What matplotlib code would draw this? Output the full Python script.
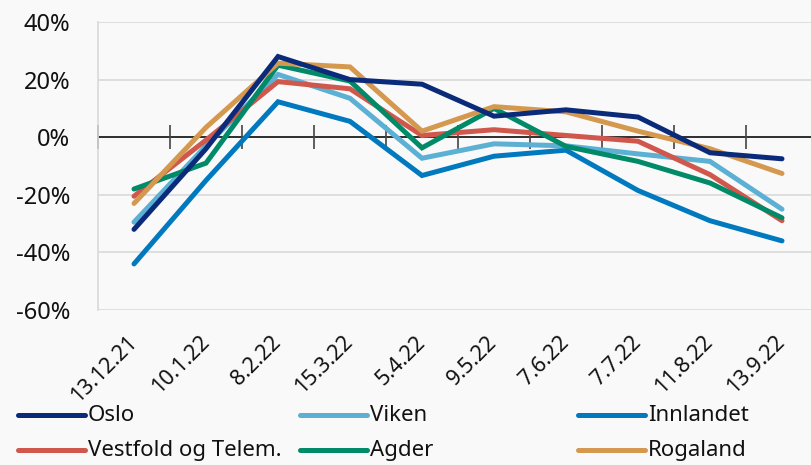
import matplotlib.pyplot as plt
from matplotlib.lines import Line2D
from matplotlib.ticker import FuncFormatter
import numpy as np

plt.rcParams['font.family'] = ['Noto Sans', 'DejaVu Sans']

dates = ["13.12.21", "10.1.22", "8.2.22", "15.3.22", "5.4.22",
         "9.5.22", "7.6.22", "7.7.22", "11.8.22", "13.9.22"]

oslo = [-32, -4, 28, 20, 18.4, 7.3, 9.5, 7, -5.4, -7.5]
viken = [-29.5, -3, 21.8, 13.5, -7.3, -2.3, -3, -5.8, -8.4, -25]
innlandet = [-44, -15, 12.3, 5.5, -13.3, -6.6, -4.5, -18.5, -29, -36]
vestfold = [-20.5, -1, 19.3, 16.8, 0.6, 2.6, 0.6, -1.4, -13, -29]
agder = [-18, -9, 25, 19.5, -3.7, 10, -3.2, -8.4, -15.9, -28]
rogaland = [-23, 3.4, 25.7, 24.4, 2.1, 10.6, 8.8, 2.1, -4, -12.6]

names = ["Oslo", "Viken", "Innlandet", "Vestfold og Telem.", "Agder", "Rogaland"]
series = [oslo, viken, innlandet, vestfold, agder, rogaland]
colors = ["#0A2A7A", "#5BB0D3", "#0079BF", "#D0574C", "#008A68", "#D4984F"]

bg = "#F9F9F9"
fig = plt.figure(figsize=(8.12, 4.65), dpi=100, facecolor=bg)
ax = fig.add_axes([98 / 812, 1 - 310 / 465, 720 / 812, 288 / 465], facecolor=bg)

x = np.arange(len(dates))
# draw order: keep Oslo on top like the original
order = [2, 1, 3, 4, 5, 0]
for i in order:
    ax.plot(x, series[i], color=colors[i], lw=3.6, solid_capstyle='round',
            solid_joinstyle='miter', zorder=3)

ax.set_xlim(-0.5, len(dates) - 0.5)
ax.set_ylim(-60, 40)
ax.set_yticks(range(-60, 41, 20))
ax.yaxis.set_major_formatter(FuncFormatter(lambda v, p: f"{v:.0f}%"))
ax.grid(axis='y', color='#D9D9D9', lw=1.2)
ax.set_axisbelow(True)

for s in ['top', 'right', 'bottom']:
    ax.spines[s].set_visible(False)
ax.spines['left'].set_color('#D9D9D9')
ax.spines['left'].set_linewidth(1.2)

ax.tick_params(axis='y', length=0, pad=20, labelsize=17, labelcolor='#111111')
ax.set_xticks(x)
ax.set_xticklabels(dates, rotation=45, ha='right', va='center',
                   rotation_mode='anchor', fontsize=15.5, color='#111111')
ax.tick_params(axis='x', length=0, pad=21)

# zero line with category boundary ticks
ax.axhline(0, color='black', lw=1.1, zorder=2)
ax.plot(np.arange(len(dates) + 1) - 0.5, np.zeros(len(dates) + 1), ls='none',
        marker='|', ms=17, mew=1.2, color='#444444', zorder=2, clip_on=False)

# legend, 3 columns x 2 rows
col_x = [18, 300, 578]
row_y = [415, 450]
for k, (name, c) in enumerate(zip(names, colors)):
    cx = col_x[k % 3]
    cy = row_y[k // 3]
    fig.add_artist(Line2D([cx / 812, (cx + 67) / 812], [1 - cy / 465] * 2,
                          color=c, lw=3.6, solid_capstyle='round'))
    fig.text((cx + 70) / 812, 1 - cy / 465, name, fontsize=16,
             va='center', ha='left', color='#111111')

fig.savefig("out.png", dpi=100, facecolor=bg)
